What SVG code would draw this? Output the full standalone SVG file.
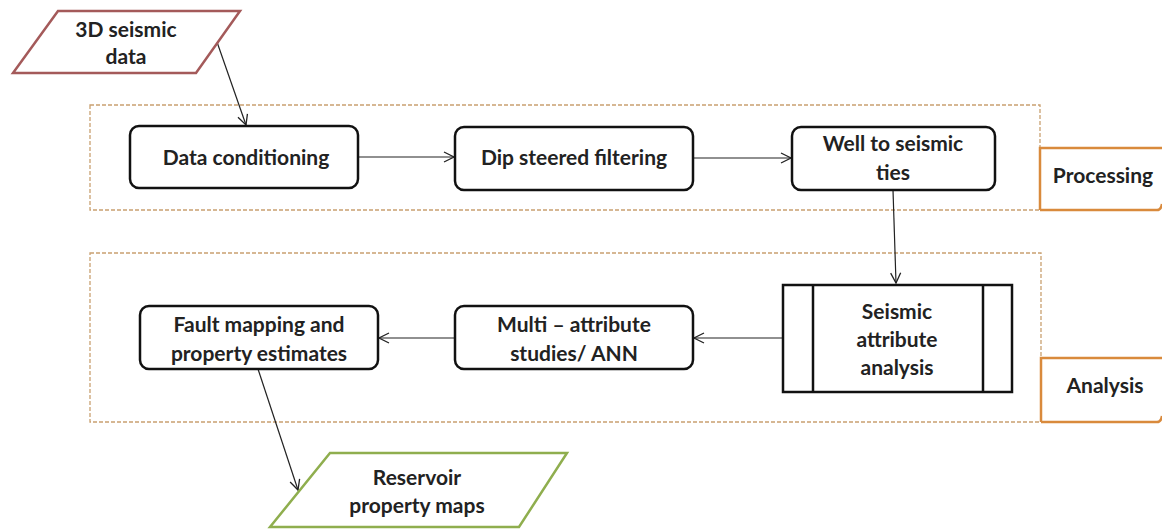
<svg xmlns="http://www.w3.org/2000/svg" width="1162" height="529" viewBox="0 0 1162 529">
<style>
.t{font-family:Lato,"Open Sans",sans-serif;font-weight:bold;font-size:21px;fill:#222;text-anchor:middle}
.box{fill:#fff;stroke:#111;stroke-width:2.5}
.grp{fill:none;stroke:#c9a070;stroke-width:1.3;stroke-dasharray:4 2}
.tab{fill:#fff;stroke:#d98a3c;stroke-width:2.5}
.c{fill:none;stroke:#222;stroke-width:1.2;marker-end:url(#ah)}
</style>
<defs>
<marker id="ah" markerWidth="14" markerHeight="14" refX="11" refY="6" orient="auto" markerUnits="userSpaceOnUse">
<path d="M1,1 L11,6 L1,11" fill="none" stroke="#222" stroke-width="1.3"/>
</marker>
</defs>
<rect width="1162" height="529" fill="#fff"/>
<g id="processing-group">
<rect class="grp" x="90" y="105" width="950" height="105"/>
</g>
<g id="analysis-group">
<rect class="grp" x="90" y="253" width="951" height="169"/>
</g>
<g id="connectors">
<path class="c" d="M217,42 L246,125"/>
<path class="c" d="M358,157 L454,157"/>
<path class="c" d="M693,158 L791,158"/>
<path class="c" d="M893,190 L896,283"/>
<path class="c" d="M783,338 L694,338"/>
<path class="c" d="M455,338 L379,338"/>
<path class="c" d="M258,369 L298,490"/>
</g>
<g id="n-3d">
<polygon points="58,11 240,11 196,73 13,73" fill="#fff" stroke="#a45a5a" stroke-width="2.5"/>
<text class="t" x="126" y="37">3D seismic</text>
<text class="t" x="126" y="64">data</text>
</g>
<g id="n-datacond">
<rect class="box" x="130" y="126" width="228" height="62" rx="9"/>
<text class="t" x="246" y="165">Data conditioning</text>
</g>
<g id="n-dip">
<rect class="box" x="455" y="127" width="238" height="63" rx="9"/>
<text class="t" x="574" y="165">Dip steered filtering</text>
</g>
<g id="n-well">
<rect class="box" x="792" y="127" width="203" height="63" rx="9"/>
<text class="t" x="893" y="151">Well to seismic</text>
<text class="t" x="893" y="180">ties</text>
</g>
<g id="n-processing">
<path class="tab" d="M1040,210 V148 H1163 M1040,210 H1157 Q1161,210 1162,204"/>
<text class="t" x="1103" y="183">Processing</text>
</g>
<g id="n-seismic">
<rect class="box" x="783" y="285" width="229" height="107"/>
<line x1="813" y1="285" x2="813" y2="392" stroke="#111" stroke-width="2.5"/>
<line x1="983" y1="285" x2="983" y2="392" stroke="#111" stroke-width="2.5"/>
<text class="t" x="897" y="319">Seismic</text>
<text class="t" x="897" y="347">attribute</text>
<text class="t" x="897" y="375">analysis</text>
</g>
<g id="n-multi">
<rect class="box" x="455" y="306" width="238" height="63" rx="9"/>
<text class="t" x="574" y="332">Multi – attribute</text>
<text class="t" x="574" y="361">studies/ ANN</text>
</g>
<g id="n-fault">
<rect class="box" x="140" y="306" width="238" height="63" rx="9"/>
<text class="t" x="259" y="332">Fault mapping and</text>
<text class="t" x="259" y="361">property estimates</text>
</g>
<g id="n-analysis">
<path class="tab" d="M1041,422 V358 H1163 M1041,422 H1157 Q1161,422 1162,416"/>
<text class="t" x="1105" y="393">Analysis</text>
</g>
<g id="n-reservoir">
<polygon points="330,453 567,453 519,527 270,527" fill="#fff" stroke="#8fae4e" stroke-width="2.5"/>
<text class="t" x="417" y="485">Reservoir</text>
<text class="t" x="417" y="513">property maps</text>
</g>
</svg>
